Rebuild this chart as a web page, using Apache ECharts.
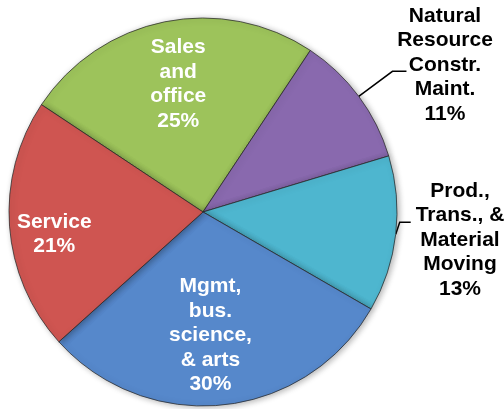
<!DOCTYPE html>
<html>
<head>
<meta charset="utf-8">
<script src="https://cdn.jsdelivr.net/npm/echarts@6/dist/echarts.min.js"></script>
<style>
    html, body { margin: 0; padding: 0; background: #fff; }
    #chart { width: 504px; height: 409px; }
</style>
</head>
<body>
<div id="chart"></div>
<script>
// occupation groups, clockwise from the Sales slice
const categories = ['Sales\nand\noffice', 'Natural\nResource\nConstr.\nMaint.', 'Prod.,\nTrans., &\nMaterial\nMoving', 'Mgmt,\nbus.\nscience,\n& arts', 'Service'];
const shares = [25, 11, 13, 30, 21];

// look of each slice and where its label sits
const sliceColors = ['#9DC35B', '#8969AE', '#4EB6CF', '#5688CB', '#CF5551'];
const labelInside = [true, false, false, true, true];
// inside labels: nudge from default spot; outside labels: text block centre
const labelShift = [[-5, -30], [445, 65], [460, 240], [-3, 24], [-49, 15]];

const chart = echarts.init(document.getElementById('chart'));

const pieData = categories.map((name, i) => ({
    name: name,
    value: shares[i],
    itemStyle: { color: sliceColors[i] },
    label: labelInside[i]
        ? { position: 'inside', color: '#fff' }
        : { position: 'outside', color: '#000' },
    labelLine: { show: !labelInside[i] }
}));

chart.setOption({
    animation: false,
    series: [{
        type: 'pie',
        center: [203, 212],
        radius: 194,
        startAngle: 146.4,
        clockwise: true,
        avoidLabelOverlap: false,
        data: pieData,
        itemStyle: {
            borderColor: 'rgba(40,40,40,0.75)',
            borderWidth: 1,
            shadowBlur: 6,
            shadowOffsetX: 2,
            shadowOffsetY: 1,
            shadowColor: 'rgba(0,0,0,0.3)'
        },
        label: {
            formatter: '{b}\n{c}%',
            fontFamily: '"Liberation Sans", Arial, sans-serif',
            fontWeight: 'bold',
            fontSize: 21,
            lineHeight: 24.5,
            align: 'center'
        },
        labelLine: {
            length: 42,
            length2: 14,
            smooth: false,
            lineStyle: { color: '#000', width: 1.5 }
        },
        labelLayout: function (p) {
            const i = p.dataIndex;
            const s = labelShift[i];
            if (labelInside[i]) {
                return { dx: s[0], dy: s[1] };
            }
            let pts = p.labelLinePoints;
            if (i === 2 && pts) {
                // short bent leader for the Prod. slice
                const a = pts[0];
                pts = [a, [a[0] + 4, a[1] - 12], [a[0] + 15, a[1] - 12]];
            }
            return {
                x: s[0],
                y: s[1],
                align: 'center',
                verticalAlign: 'middle',
                labelLinePoints: pts
            };
        },
        emphasis: { disabled: true }
    }]
});
</script>
</body>
</html>
